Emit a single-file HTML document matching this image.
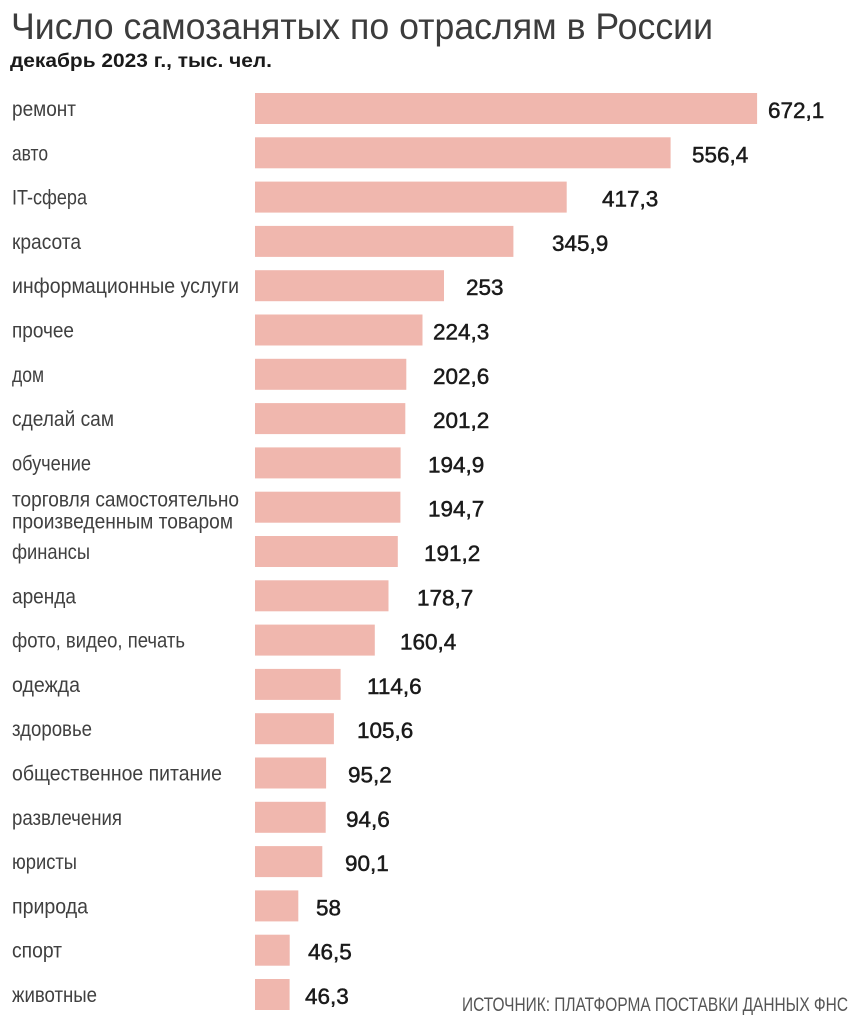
<!DOCTYPE html>
<html>
<head>
<meta charset="utf-8">
<style>
  html,body{margin:0;padding:0;background:#fff;}
  svg{display:block;}
  .t{font-family:"Liberation Sans","Noto Sans CJK SC",sans-serif;}
  .lab{font-size:21px;fill:#404040;}
  .val{font-size:22.5px;fill:#1a1a1a;stroke:#1a1a1a;stroke-width:0.5px;}
</style>
</head>
<body>
<svg width="863" height="1023" viewBox="0 0 863 1023" xmlns="http://www.w3.org/2000/svg">
  <rect width="863" height="1023" fill="#fff"/>
  <text class="t" x="11" y="39" font-size="37" fill="#3c3c3c" textLength="702" lengthAdjust="spacingAndGlyphs">Число самозанятых по отраслям в России</text>
  <text class="t" x="10" y="67" font-size="19.5" font-weight="bold" fill="#1a1a1a" textLength="262" lengthAdjust="spacingAndGlyphs">декабрь 2023 г., тыс. чел.</text>

  <g fill="#f0b7ae">
    <rect x="255" y="93.0" width="502.1" height="31"/>
    <rect x="255" y="137.3" width="415.6" height="31"/>
    <rect x="255" y="181.6" width="311.7" height="31"/>
    <rect x="255" y="225.9" width="258.4" height="31"/>
    <rect x="255" y="270.2" width="189.0" height="31"/>
    <rect x="255" y="314.5" width="167.5" height="31"/>
    <rect x="255" y="358.8" width="151.3" height="31"/>
    <rect x="255" y="403.1" width="150.3" height="31"/>
    <rect x="255" y="447.4" width="145.6" height="31"/>
    <rect x="255" y="491.7" width="145.4" height="31"/>
    <rect x="255" y="536.0" width="142.8" height="31"/>
    <rect x="255" y="580.3" width="133.5" height="31"/>
    <rect x="255" y="624.6" width="119.8" height="31"/>
    <rect x="255" y="668.9" width="85.6" height="31"/>
    <rect x="255" y="713.2" width="78.9" height="31"/>
    <rect x="255" y="757.5" width="71.1" height="31"/>
    <rect x="255" y="801.8" width="70.7" height="31"/>
    <rect x="255" y="846.1" width="67.3" height="31"/>
    <rect x="255" y="890.4" width="43.3" height="31"/>
    <rect x="255" y="934.7" width="34.7" height="31"/>
    <rect x="255" y="979.0" width="34.6" height="31"/>
  </g>

  <g class="t lab">
    <text x="12" y="116" textLength="64" lengthAdjust="spacingAndGlyphs">ремонт</text>
    <text x="12" y="160.3" textLength="36" lengthAdjust="spacingAndGlyphs">авто</text>
    <text x="12" y="204.6" textLength="75" lengthAdjust="spacingAndGlyphs">IT-сфера</text>
    <text x="12" y="248.9" textLength="69" lengthAdjust="spacingAndGlyphs">красота</text>
    <text x="12" y="293.2" textLength="227" lengthAdjust="spacingAndGlyphs">информационные услуги</text>
    <text x="12" y="337.5" textLength="62" lengthAdjust="spacingAndGlyphs">прочее</text>
    <text x="12" y="381.8" textLength="32" lengthAdjust="spacingAndGlyphs">дом</text>
    <text x="12" y="426.1" textLength="102" lengthAdjust="spacingAndGlyphs">сделай сам</text>
    <text x="12" y="470.4" textLength="79" lengthAdjust="spacingAndGlyphs">обучение</text>
    <text x="12" y="506.5" textLength="227" lengthAdjust="spacingAndGlyphs">торговля самостоятельно</text>
    <text x="12" y="528.5" textLength="221" lengthAdjust="spacingAndGlyphs">произведенным товаром</text>
    <text x="12" y="559" textLength="78" lengthAdjust="spacingAndGlyphs">финансы</text>
    <text x="12" y="603.3" textLength="64" lengthAdjust="spacingAndGlyphs">аренда</text>
    <text x="12" y="647.6" textLength="173" lengthAdjust="spacingAndGlyphs">фото, видео, печать</text>
    <text x="12" y="691.9" textLength="68" lengthAdjust="spacingAndGlyphs">одежда</text>
    <text x="12" y="736.2" textLength="80" lengthAdjust="spacingAndGlyphs">здоровье</text>
    <text x="12" y="780.5" textLength="210" lengthAdjust="spacingAndGlyphs">общественное питание</text>
    <text x="12" y="824.8" textLength="110" lengthAdjust="spacingAndGlyphs">развлечения</text>
    <text x="12" y="869.1" textLength="65" lengthAdjust="spacingAndGlyphs">юристы</text>
    <text x="12" y="913.4" textLength="76" lengthAdjust="spacingAndGlyphs">природа</text>
    <text x="12" y="957.7" textLength="50" lengthAdjust="spacingAndGlyphs">спорт</text>
    <text x="12" y="1002" textLength="85" lengthAdjust="spacingAndGlyphs">животные</text>
  </g>

  <g class="t val">
    <text x="768" y="118.0">672,1</text>
    <text x="692" y="162.3">556,4</text>
    <text x="602" y="206.6">417,3</text>
    <text x="552" y="250.9">345,9</text>
    <text x="466" y="295.2">253</text>
    <text x="433" y="339.5">224,3</text>
    <text x="433" y="383.8">202,6</text>
    <text x="433" y="428.1">201,2</text>
    <text x="428" y="472.4">194,9</text>
    <text x="428" y="516.7">194,7</text>
    <text x="424" y="561.0">191,2</text>
    <text x="417" y="605.3">178,7</text>
    <text x="400" y="649.6">160,4</text>
    <text x="367" y="693.9">114,6</text>
    <text x="357" y="738.2">105,6</text>
    <text x="348" y="782.5">95,2</text>
    <text x="346" y="826.8">94,6</text>
    <text x="345" y="871.1">90,1</text>
    <text x="316" y="915.4">58</text>
    <text x="308" y="959.7">46,5</text>
    <text x="305" y="1004.0">46,3</text>
  </g>

  <text class="t" x="462" y="1011" font-size="19" fill="#555" textLength="386" lengthAdjust="spacingAndGlyphs">ИСТОЧНИК: ПЛАТФОРМА ПОСТАВКИ ДАННЫХ ФНС</text>
</svg>
</body>
</html>
